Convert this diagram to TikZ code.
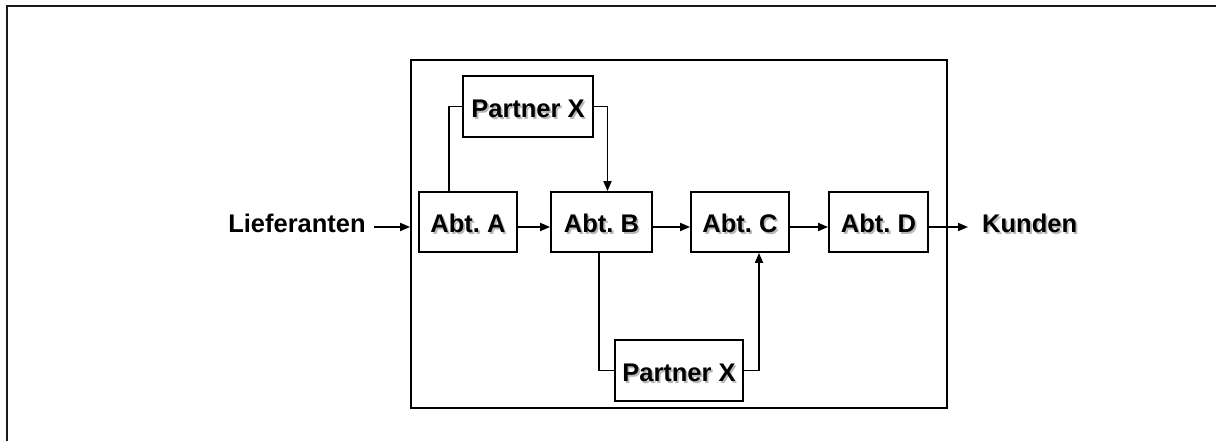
\documentclass[tikz,border=0pt]{standalone}
\usepackage{fontspec}
\setmainfont{Liberation Sans}
\usetikzlibrary{arrows.meta,calc}
\frenchspacing

% bold label with a light drop shadow
\newcommand\shadowlabel[1]{\makebox[0pt][l]{\kern1.8pt\raisebox{-1.8pt}{\color{black!28}#1}}#1}

\begin{document}
\begin{tikzpicture}[x=1pt,y=-1pt,
  every node/.style={font=\fontsize{25.5}{30}\selectfont\bfseries, inner sep=0pt,
                     text height=22pt, text depth=0pt},
  unit/.style={draw, line width=1.8pt, minimum height=60pt},
  flow/.style={line width=1.8pt, -{Triangle[length=10pt,width=8pt]}},
  link/.style={line width=1.8pt}]
  \useasboundingbox (0,0) rectangle (1216,441);

  % outer frame, open towards right and bottom
  \draw[line width=2.8pt, black!90] (7,470) -- (7,6) -- (1240,6);

  % organisation boundary
  \node[draw, line width=1.8pt, minimum width=536pt, minimum height=348pt,
        text height=, text depth=] (org) at (679,234) {};

  % departments
  \node[unit, minimum width=98pt]  (A) at (468,222)   {\shadowlabel{Abt. A}};
  \node[unit, minimum width=101pt] (B) at (601.5,222) {\shadowlabel{Abt. B}};
  \node[unit, minimum width=98pt]  (C) at (740,222)   {\shadowlabel{Abt. C}};
  \node[unit, minimum width=99pt]  (D) at (878.5,222) {\shadowlabel{Abt. D}};

  % partners
  \node[unit, minimum width=130pt, minimum height=61pt] (P1) at (528,106.5) {\shadowlabel{Partner X}};
  \node[unit, minimum width=128pt, minimum height=61pt] (P2) at (679,370.5) {\shadowlabel{Partner X}};

  % outside parties
  \node (L) at (297,222) {Lieferanten};
  \node[anchor=west] (K) at (982,222) {\shadowlabel{Kunden}};

  % main flow
  \coordinate (row) at (0,227);
  \draw[flow] ([xshift=8pt]L.east |- row) -- (org.west |- row);
  \draw[flow] (A.east |- row) -- (B.west |- row);
  \draw[flow] (B.east |- row) -- (C.west |- row);
  \draw[flow] (C.east |- row) -- (D.west |- row);
  \draw[flow] (D.east |- row) -- ([xshift=-14pt]K.west |- row);

  % outsourced steps
  \draw[link] ([xshift=-19pt]A.north) |- (P1.west);
  \draw[flow] (P1.east) -| ([xshift=6pt]B.north);
  \draw[link] ([xshift=-2.5pt]B.south) |- (P2.west);
  \draw[flow] (P2.east) -| ([xshift=19pt]C.south);
\end{tikzpicture}
\end{document}
